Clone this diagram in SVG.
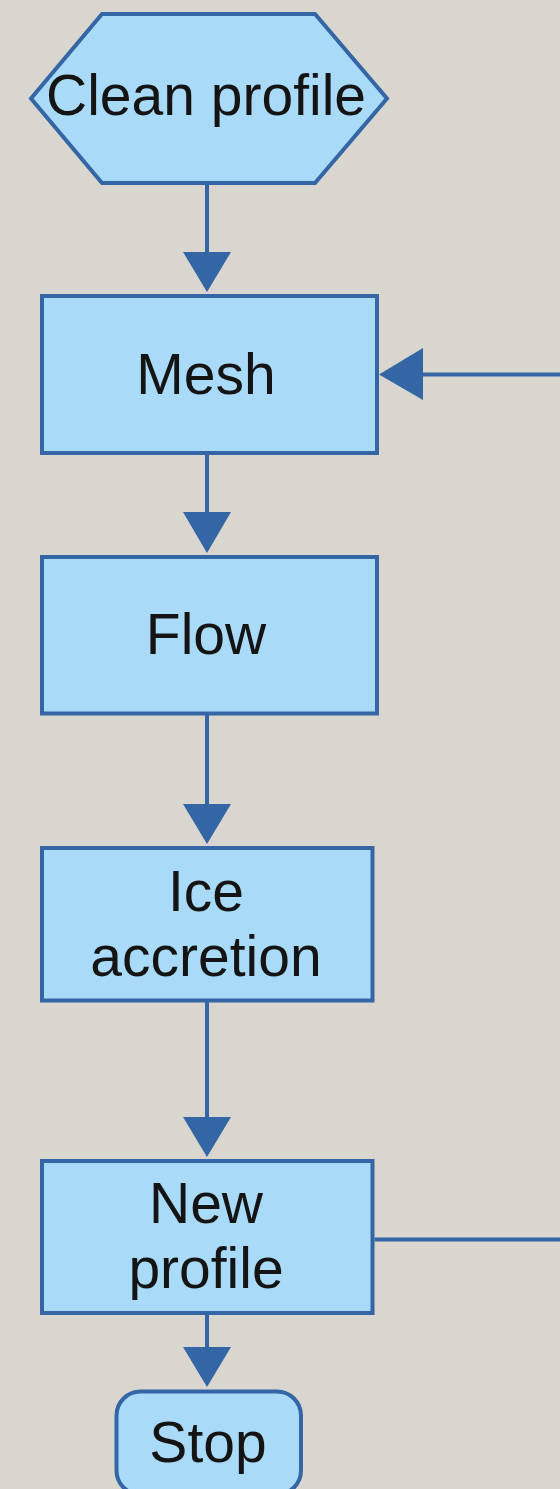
<svg xmlns="http://www.w3.org/2000/svg" width="560" height="1489" viewBox="0 0 560 1489">
<defs>
<style>
.n{fill:#a9dbf8;stroke:#3465a4;stroke-width:4}
.t{font-family:"Liberation Sans",Arial,sans-serif;font-size:57px;fill:#141414;text-anchor:middle}
.c{fill:none;stroke:#3465a4;stroke-width:4}
.h{fill:#3465a4;stroke:none}
</style>
</defs>
<rect x="0" y="0" width="560" height="1489" fill="#d9d6d0"/>
<g id="connectors">
<path class="c" d="M207 183 V254"/>
<polygon class="h" points="183,252 231,252 207,292"/>
<path class="c" d="M207 453 V514"/>
<polygon class="h" points="183,512 231,512 207,553"/>
<path class="c" d="M207 713.5 V806"/>
<polygon class="h" points="183,804 231,804 207,844"/>
<path class="c" d="M207 1000.5 V1119"/>
<polygon class="h" points="183,1117 231,1117 207,1157"/>
<path class="c" d="M207 1313 V1349"/>
<polygon class="h" points="183,1347 231,1347 207,1387"/>
<path class="c" d="M374.5 1239.5 H620 V374.5 H421"/>
<polygon class="h" points="423,348 423,400 379,374.5"/>
</g>
<g id="clean-profile">
<polygon class="n" points="102,14 315,14 387,98.5 315,183 102,183 31,98.5"/>
<text class="t" x="206" y="115">Clean profile</text>
</g>
<g id="mesh">
<rect class="n" x="42" y="296" width="335" height="157"/>
<text class="t" x="206" y="394">Mesh</text>
</g>
<g id="flow">
<rect class="n" x="42" y="557" width="335" height="156.5"/>
<text class="t" x="206" y="654">Flow</text>
</g>
<g id="ice-accretion">
<rect class="n" x="42" y="848" width="330.5" height="152.5"/>
<text class="t" x="206" y="911">Ice</text>
<text class="t" x="206" y="976">accretion</text>
</g>
<g id="new-profile">
<rect class="n" x="42" y="1161" width="330.5" height="152"/>
<text class="t" x="206" y="1223">New</text>
<text class="t" x="206" y="1288">profile</text>
</g>
<g id="stop">
<rect class="n" x="116.5" y="1391.5" width="184.5" height="103" rx="24" ry="24"/>
<text class="t" x="208" y="1462">Stop</text>
</g>
</svg>
